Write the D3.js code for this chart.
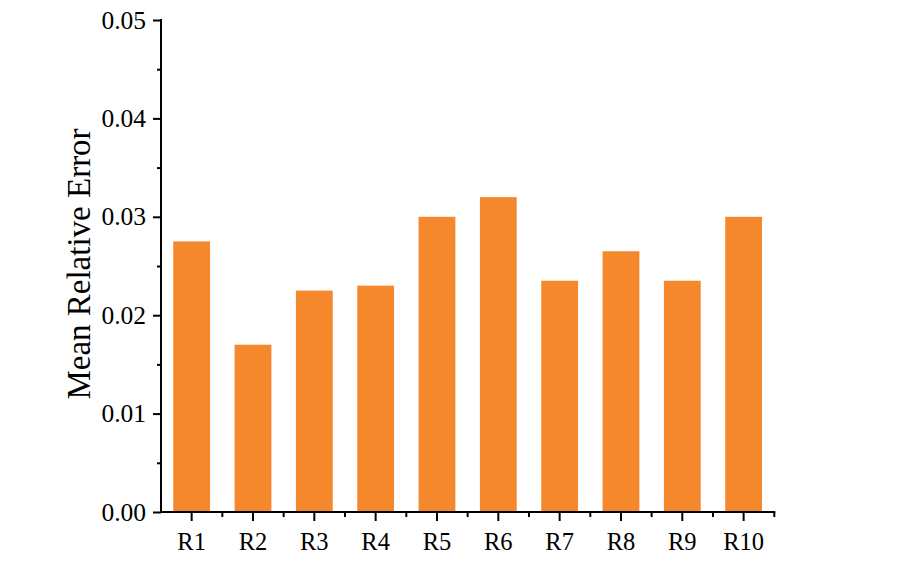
<!DOCTYPE html>
<html><head><meta charset="utf-8">
<script src="https://cdn.jsdelivr.net/npm/d3@7"></script>
<style>body{margin:0;background:#fff}</style>
</head><body>
<svg id="c" width="900" height="561"></svg>
<script>
const categories = ["R1","R2","R3","R4","R5","R6","R7","R8","R9","R10"];
const values = [0.0275,0.017,0.0225,0.023,0.030,0.032,0.0235,0.0265,0.0235,0.030];
const yTicks = [0,0.01,0.02,0.03,0.04,0.05];
const yMinor = [0.005,0.015,0.025,0.035,0.045];
const yLabel = "Mean Relative Error";

const svg = d3.select("#c");
const mL = 161, mR = 774.3, mT = 20, mB = 512;
const x = d3.scaleBand().domain(categories).range([mL,mR]).paddingInner(0.4).paddingOuter(0.2);
const y = d3.scaleLinear().domain([0,0.05]).range([mB,mT]);
const font = "'Liberation Serif','Times New Roman',serif";

svg.selectAll("rect.bar").data(values).join("rect")
  .attr("class","bar")
  .attr("x",(d,i)=>x(categories[i]))
  .attr("width",x.bandwidth())
  .attr("y",d=>y(d))
  .attr("height",d=>y(0)-y(d))
  .attr("fill","#F5872C");

// y axis
const ya = svg.append("g").attr("transform",`translate(${mL},0)`)
  .call(d3.axisLeft(y).tickValues(yTicks).tickFormat(d3.format(".2f")).tickSize(8).tickPadding(7));
ya.append("g").call(d3.axisLeft(y).tickValues(yMinor).tickSize(4).tickFormat(""));
ya.selectAll(".domain").remove();
ya.append("line").attr("x1",0).attr("x2",0).attr("y1",mT-1).attr("y2",mB+1).attr("stroke","#000").attr("stroke-width",2);
ya.selectAll("line").attr("stroke-width",2);
ya.selectAll("text").attr("font-family",font).attr("font-size",25.5).attr("fill","#000");

// x axis
const xa = svg.append("g").attr("transform",`translate(0,${mB})`)
  .call(d3.axisBottom(x).tickSize(9).tickPadding(12));
const bounds = d3.range(1,categories.length+1).map(i=>mL + i*x.step());
xa.append("g").selectAll("line").data(bounds).join("line")
  .attr("x1",d=>d).attr("x2",d=>d).attr("y1",0).attr("y2",5).attr("stroke","#000");
xa.selectAll(".domain").remove();
xa.append("line").attr("x1",mL-1).attr("x2",mR+1).attr("y1",0).attr("y2",0).attr("stroke","#000").attr("stroke-width",2);
xa.selectAll("line").attr("stroke-width",2);
xa.selectAll("text").attr("font-family",font).attr("font-size",24.5).attr("fill","#000");

svg.append("text")
  .attr("transform",`translate(90,264) rotate(-90)`)
  .attr("text-anchor","middle")
  .attr("font-family",font).attr("font-size",33).attr("fill","#000")
  .text(yLabel);
</script>
</body></html>
